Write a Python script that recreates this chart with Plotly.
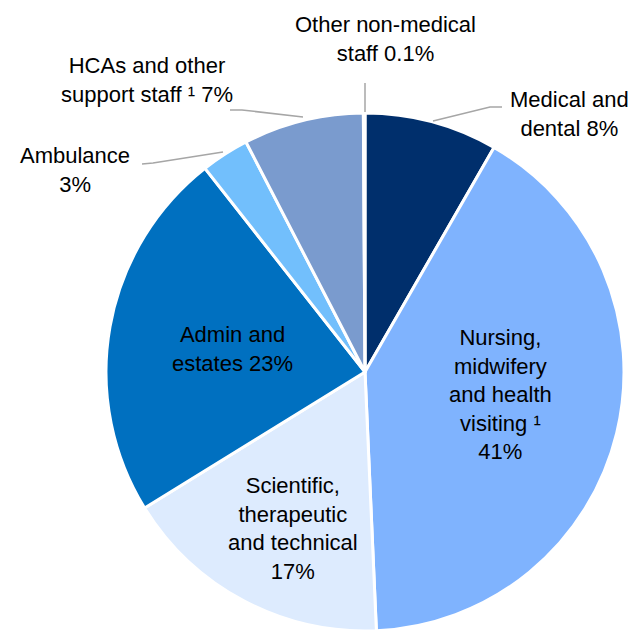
import plotly.graph_objects as go

categories = ["Medical and dental", "Nursing, midwifery and health visiting", "Scientific, therapeutic and technical",
              "Admin and estates", "Ambulance", "HCAs and other support staff", "Other non-medical staff"]
values = [8.3, 41.0, 16.9, 23.2, 3.0, 7.5, 0.1]
label_texts = ["Medical and<br>dental 8%",
               "Nursing,<br>midwifery<br>and health<br>visiting \u00b9<br>41%",
               "Scientific,<br>therapeutic<br>and technical<br>17%",
               "Admin and<br>estates 23%",
               "Ambulance<br>3%",
               "HCAs and other<br>support staff \u00b9 7%",
               "Other non-medical<br>staff 0.1%"]
colors = ["#002F6C", "#7FB3FE", "#DDEBFE", "#0070C0", "#72BFFC", "#7A9BCE", "#A9C6F0"]

W, H = 640, 630
OFF = 8          # page body offset
CX, CY, R = 365 - OFF, 372 - OFF, 259
TOP = CY - R
BOT = H - TOP - 2 * R
FONT = "Liberation Sans, Arial, sans-serif"

fig = go.Figure(go.Pie(
    labels=categories, values=values, sort=False, direction="clockwise", rotation=0,
    marker=dict(colors=colors, line=dict(color="white", width=3)),
    textinfo="none", hoverinfo="label+percent", showlegend=False,
    domain=dict(x=[(CX - R) / W, (CX + R) / W], y=[0, 1]),
))

# label positions on screen (x center, y center)
label_pos = [(569, 114), (500, 394), (293, 528), (232, 349), (75, 170), (147, 80), (385, 39)]

def px(x, y):
    return (x - OFF) / W, 1 - (y - OFF - TOP) / (2 * R)

for txt, (x, y) in zip(label_texts, label_pos):
    xx, yy = px(x, y)
    fig.add_annotation(x=xx, y=yy, xref="paper", yref="paper", text=txt, showarrow=False,
                       font=dict(family=FONT, size=22, color="#000000"), align="center",
                       xanchor="center", yanchor="middle")

leaders = [
    [(433, 121), (490, 107), (502, 107)],
    [(365, 112), (365, 83)],
    [(303, 117), (242, 110), (230, 110)],
    [(223, 152), (153, 163), (142, 164)],
]
for pts in leaders:
    path = "M " + " L ".join(f"{px(x, y)[0]:.5f},{px(x, y)[1]:.5f}" for x, y in pts)
    fig.add_shape(type="path", path=path, xref="paper", yref="paper",
                  line=dict(color="#A6A6A6", width=1.5))

fig.update_layout(width=W, height=H, margin=dict(l=0, r=0, t=TOP, b=BOT),
                  paper_bgcolor="white", plot_bgcolor="white")
fig.write_html("out.html")
